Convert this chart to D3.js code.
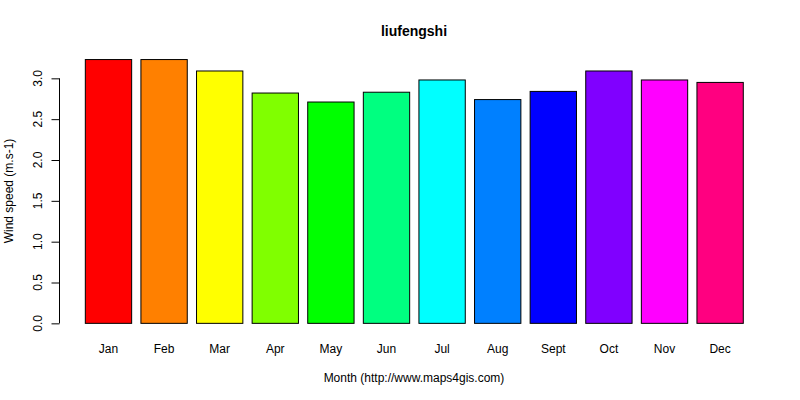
<!DOCTYPE html>
<html>
<head>
<meta charset="utf-8">
<script src="https://cdn.jsdelivr.net/npm/d3@7"></script>
<style>
  body { margin: 0; background: #fff; }
  text { font-family: "Liberation Sans", Arial, sans-serif; fill: #000; }
</style>
</head>
<body>
<div id="canvas"></div>
<script>
"use strict"

/* chart data */
let months = ["Jan", "Feb", "Mar", "Apr", "May", "Jun", "Jul", "Aug", "Sept", "Oct", "Nov", "Dec"];
let windSpeed = [3.23, 3.23, 3.09, 2.82, 2.71, 2.83, 2.98, 2.74, 2.84, 3.09, 2.98, 2.95];
let barColors = ["#FF0000", "#FF8000", "#FFFF00", "#80FF00", "#00FF00", "#00FF80",
                 "#00FFFF", "#0080FF", "#0000FF", "#8000FF", "#FF00FF", "#FF0080"];
let yTicks = [0, 0.5, 1, 1.5, 2, 2.5, 3];

let drawing = d3.select("#canvas")
    .append("svg")
    .attr("width", 800)
    .attr("height", 400);

/* R barplot style: width 1, space 0.2, 4% padding on the axis range */
let barWidth = 1;
let space = 0.2;
let xMin = space;
let xMax = months.length * (barWidth + space);
let xPad = (xMax - xMin) * 0.04;

let x = d3.scaleLinear()
    .domain([xMin - xPad, xMax + xPad])
    .range([59, 769.6]);

let yMax = d3.max(windSpeed);
let y = d3.scaleLinear()
    .domain([-yMax * 0.04, yMax * 1.04])
    .range([333.9, 49]);

/* bars */
drawing.append("g")
    .selectAll("rect")
    .data(windSpeed)
    .enter()
    .append("rect")
    .attr("x", (d, i) => x(space + i * (barWidth + space)))
    .attr("y", d => y(d))
    .attr("width", x(barWidth) - x(0))
    .attr("height", d => y(0) - y(d))
    .attr("fill", (d, i) => barColors[i])
    .attr("stroke", "black")
    .attr("stroke-width", 1);

/* y axis */
let yAxis = drawing.append("g")
    .attr("transform", "translate(59.5,0)")
    .call(d3.axisLeft(y).tickValues(yTicks).tickFormat(d3.format(".1f")).tickSize(8).tickSizeOuter(0));

yAxis.select(".domain")
    .attr("d", "M0," + y(0) + "V" + y(3))
    .attr("stroke", "black");
yAxis.selectAll(".tick line").attr("stroke", "black");
yAxis.selectAll(".tick text")
    .attr("font-size", 12)
    .attr("font-family", "Liberation Sans, Arial, sans-serif")
    .attr("transform", d => "rotate(-90," + (-22) + "," + y(d) + ")")
    .attr("x", -22)
    .attr("dy", "0.35em")
    .attr("y", d => y(d))
    .attr("text-anchor", "middle");
yAxis.selectAll(".tick").attr("transform", null);
yAxis.selectAll(".tick line").attr("y1", d => y(d) + 0.5).attr("y2", d => y(d) + 0.5);

/* month labels */
drawing.append("g")
    .selectAll("text")
    .data(months)
    .enter()
    .append("text")
    .attr("x", (d, i) => x(space + i * (barWidth + space) + barWidth / 2))
    .attr("y", 353)
    .attr("text-anchor", "middle")
    .attr("font-size", 12)
    .text(d => d);

/* title and axis labels */
drawing.append("text")
    .attr("x", 414)
    .attr("y", 36)
    .attr("text-anchor", "middle")
    .attr("font-size", 14)
    .attr("font-weight", "bold")
    .text("liufengshi");

drawing.append("text")
    .attr("x", 414)
    .attr("y", 382)
    .attr("text-anchor", "middle")
    .attr("font-size", 12)
    .text("Month (http://www.maps4gis.com)");

drawing.append("text")
    .attr("transform", "translate(13,191) rotate(-90)")
    .attr("text-anchor", "middle")
    .attr("font-size", 12)
    .text("Wind speed (m.s-1)");
</script>
</body>
</html>
